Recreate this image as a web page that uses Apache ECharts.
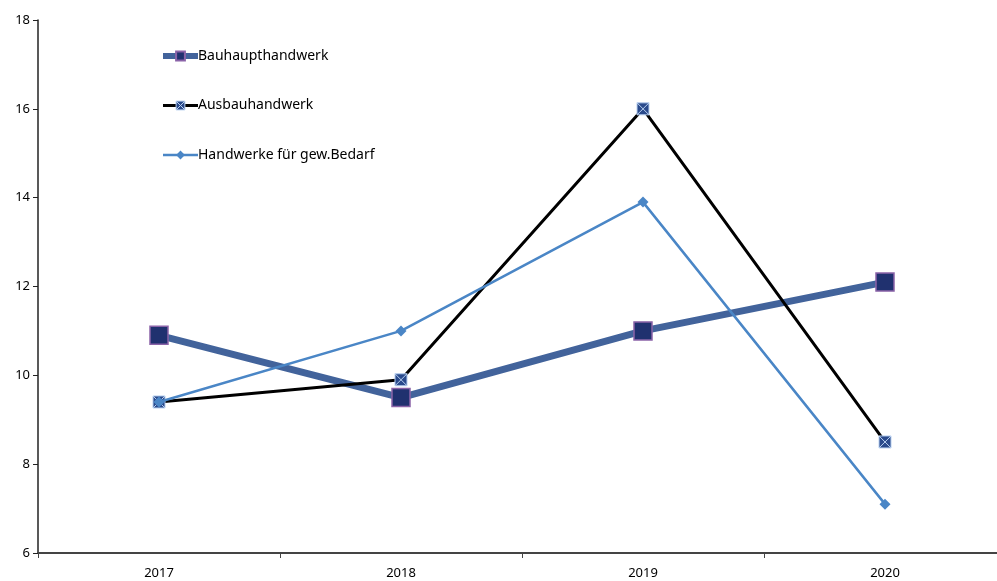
<!DOCTYPE html>
<html>
<head>
<meta charset="utf-8">
<script src="https://cdn.jsdelivr.net/npm/echarts@6/dist/echarts.min.js"></script>
<style>
  html, body { margin: 0; padding: 0; background: #fff; overflow: hidden; }
  /* canvas a bit wider than the window: the last category runs past the right edge */
  #main { width: 1006px; height: 581px; }
</style>
</head>
<body>
<div id="main"></div>
<script>
// data
const jahre = ['2017', '2018', '2019', '2020'];
const bauhaupt = [10.9, 9.5, 11.0, 12.1];
const ausbau = [9.4, 9.9, 16.0, 8.5];
const gewBedarf = [9.4, 11.0, 13.9, 7.1];

const kreuzSymbol = 'path://M0,0H10V10H0Z M0,0L10,10 M10,0L0,10';

const chart = echarts.init(document.getElementById('main'));

const option = {
    animation: false,
    textStyle: { fontFamily: 'Noto Sans', color: '#000' },
    grid: { left: 38, top: 20, right: 0, bottom: 28, containLabel: false },
    legend: {
        orient: 'vertical',
        left: 160,
        top: 49,
        padding: 0,
        itemWidth: 35,
        itemHeight: 11,
        itemGap: 35.5,
        textStyle: { fontSize: 14, color: '#000', padding: [0, 0, 0, -5] },
        data: [
            { name: 'Bauhaupthandwerk', lineStyle: { width: 6 } },
            {
                name: 'Ausbauhandwerk',
                lineStyle: { width: 3 },
                itemStyle: { color: '#2a4a8c', borderColor: '#b8d0f0', borderWidth: 1 }
            },
            { name: 'Handwerke für gew.Bedarf', lineStyle: { width: 2.5 } }
        ]
    },
    xAxis: {
        type: 'category',
        data: jahre,
        boundaryGap: true,
        axisLine: { lineStyle: { color: '#444', width: 2 } },
        axisTick: { show: true, length: 5, lineStyle: { color: '#444' } },
        axisLabel: { fontSize: 13, color: '#000', margin: 14 }
    },
    yAxis: {
        type: 'value',
        min: 6,
        max: 18,
        interval: 2,
        splitLine: { show: false },
        axisLine: { show: true, lineStyle: { color: '#222', width: 1.5 } },
        axisTick: { show: true, length: 5, lineStyle: { color: '#222' } },
        axisLabel: { fontSize: 13, color: '#000', margin: 8 }
    },
    series: [
        {
            name: 'Bauhaupthandwerk',
            type: 'line',
            data: bauhaupt,
            z: 2,
            symbol: 'rect',
            symbolSize: 18,
            lineStyle: { color: '#42639b', width: 7 },
            itemStyle: { color: '#20316f', borderColor: '#8a63a8', borderWidth: 1.5 }
        },
        {
            name: 'Ausbauhandwerk',
            type: 'line',
            data: ausbau,
            z: 3,
            symbol: kreuzSymbol,
            symbolSize: 12,
            lineStyle: { color: '#000', width: 3 },
            itemStyle: { color: '#2a4a8c', borderColor: '#b8d0f0', borderWidth: 1 }
        },
        {
            name: 'Handwerke für gew.Bedarf',
            type: 'line',
            data: gewBedarf,
            z: 4,
            symbol: 'diamond',
            symbolSize: 11,
            lineStyle: { color: '#4a86c6', width: 2.5 },
            itemStyle: { color: '#4a86c6' }
        }
    ]
};

chart.setOption(option);
window.addEventListener('resize', () => chart.resize());
</script>
</body>
</html>
